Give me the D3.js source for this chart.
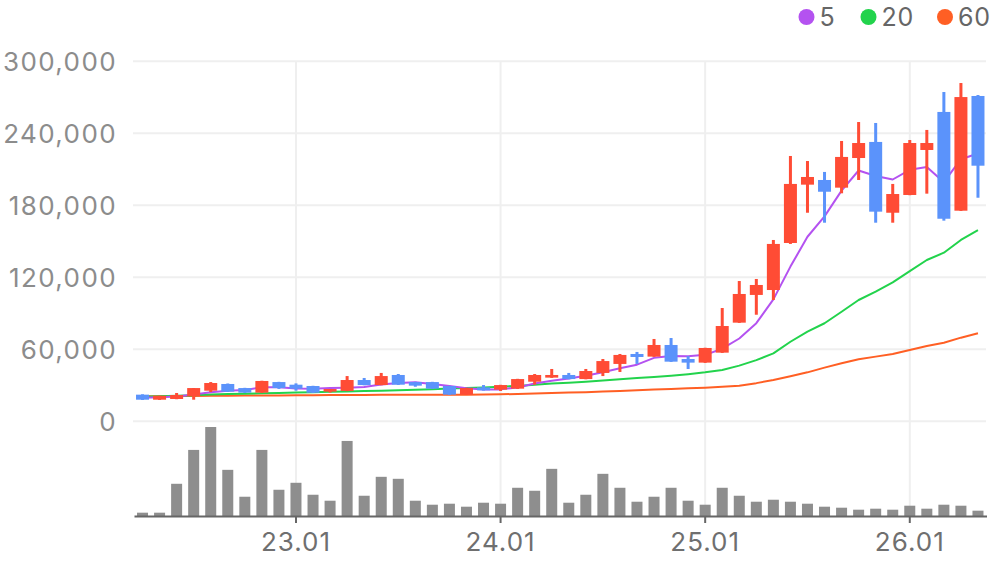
<!DOCTYPE html>
<html>
<head>
<meta charset="utf-8">
<script src="https://cdn.jsdelivr.net/npm/d3@7"></script>
<style>
  html, body { margin: 0; padding: 0; background: #fff; }
  body { font-family: Inter, "Noto Sans", sans-serif; }
</style>
</head>
<body>
<div id="chart"></div>
<script>
const months = [
  "22.04", "22.05", "22.06", "22.07", "22.08", "22.09", "22.10", "22.11", "22.12",
  "23.01", "23.02", "23.03", "23.04", "23.05", "23.06", "23.07", "23.08", "23.09", "23.10", "23.11", "23.12",
  "24.01", "24.02", "24.03", "24.04", "24.05", "24.06", "24.07", "24.08", "24.09", "24.10", "24.11", "24.12",
  "25.01", "25.02", "25.03", "25.04", "25.05", "25.06", "25.07", "25.08", "25.09", "25.10", "25.11", "25.12",
  "26.01", "26.02", "26.03", "26.04", "26.05",
];

// prices in thousands
const open = [
  22.2, 18.0, 18.6, 21.1, 25.5, 31.1, 27.7, 23.9, 32.7, 30.5,
  29.4, 24.7, 25.3, 34.4, 30.2, 38.6, 32.7, 32.7, 29.4, 22.2,
  28.3, 26.4, 27.2, 33.0, 36.4, 38.6, 35.2, 40.3, 47.8, 56.1,
  53.9, 63.6, 51.9, 48.9, 57.2, 82.2, 105.3, 109.4, 148.6, 197.2,
  201.1, 194.7, 219.4, 232.8, 173.8, 188.6, 226.1, 257.8, 175.5, 271.1,
];
const high = [
  22.5, 21.3, 23.6, 27.7, 32.7, 31.5, 27.9, 33.8, 32.9, 31.6,
  29.6, 26.9, 37.7, 36.1, 40.3, 39.4, 32.9, 32.9, 29.6, 27.9,
  30.2, 30.4, 35.4, 39.4, 43.6, 40.3, 43.6, 51.9, 56.1, 57.8,
  68.6, 69.4, 54.4, 61.3, 94.4, 116.9, 118.6, 151.1, 221.1, 216.9,
  207.8, 233.6, 249.4, 248.6, 197.8, 234.4, 242.8, 274.4, 281.9, 271.9,
];
const low = [
  17.8, 17.8, 18.4, 18.0, 24.4, 24.5, 23.7, 23.7, 27.0, 25.5,
  23.6, 23.9, 25.1, 30.0, 30.0, 30.3, 28.8, 27.0, 22.0, 22.0,
  25.6, 25.3, 27.0, 30.5, 36.2, 35.0, 35.0, 37.7, 41.1, 47.8,
  53.7, 49.5, 43.6, 48.7, 57.0, 82.0, 88.8, 101.1, 147.8, 173.8,
  165.5, 190.0, 201.1, 165.5, 165.5, 188.4, 189.7, 167.2, 175.3, 186.3,
];
const close = [
  18.0, 21.3, 21.9, 27.7, 31.9, 24.7, 23.9, 33.6, 27.7, 27.2,
  23.8, 26.9, 34.4, 30.2, 37.7, 30.5, 29.7, 27.2, 22.2, 27.7,
  25.8, 30.2, 35.2, 38.6, 38.6, 35.2, 41.9, 50.2, 55.3, 53.6,
  63.6, 49.7, 48.9, 61.1, 79.4, 106.1, 113.6, 147.8, 197.8, 203.6,
  191.3, 220.3, 231.9, 174.7, 189.4, 231.9, 231.9, 168.8, 270.2, 213.0,
];
const ma5 = [
  19.6, 20.0, 20.6, 22.4, 24.2, 25.5, 26.0, 28.4, 28.4, 27.4,
  27.2, 27.8, 28.0, 28.5, 30.6, 31.9, 32.5, 31.1, 29.5, 27.5,
  26.5, 26.6, 28.2, 31.5, 33.7, 35.6, 37.9, 40.9, 44.2, 47.2,
  52.9, 54.5, 54.2, 55.4, 60.5, 69.0, 81.8, 101.6, 128.9, 153.8,
  170.8, 192.2, 209.0, 204.4, 201.5, 209.6, 212.0, 199.3, 218.4, 223.2,
];
const ma20 = [
  20.5, 20.8, 21.2, 21.8, 22.4, 22.8, 23.0, 23.3, 23.6, 24.0,
  24.3, 24.6, 24.9, 25.2, 25.5, 25.9, 26.3, 26.8, 27.3, 27.8,
  28.2, 28.8, 29.5, 30.4, 31.5, 32.2, 33.0, 34.0, 35.0, 36.0,
  37.0, 38.0, 39.3, 40.8, 42.7, 46.4, 51.0, 56.6, 66.3, 74.7,
  81.7, 91.3, 101.1, 108.0, 115.8, 125.2, 134.4, 140.5, 151.1, 159.4,
];
const ma60 = [
  20.8, 20.9, 21.0, 21.1, 21.2, 21.3, 21.4, 21.5, 21.6, 21.7,
  21.8, 21.9, 22.0, 22.0, 22.1, 22.1, 22.1, 22.1, 22.1, 22.2,
  22.3, 22.5, 22.8, 23.1, 23.5, 23.9, 24.3, 24.8, 25.3, 25.9,
  26.4, 27.0, 27.5, 28.0, 28.8, 29.7, 31.8, 34.4, 37.5, 40.8,
  44.7, 48.3, 51.7, 53.9, 56.1, 59.4, 62.8, 65.5, 69.7, 73.3,
];
// volume, millions
const volume = [
  1.0, 1.0, 9.7, 19.9, 26.8, 13.9, 5.8, 19.9, 7.9, 10.0,
  6.4, 4.6, 22.6, 6.1, 11.8, 11.2, 4.6, 3.4, 3.7, 2.8,
  4.0, 3.7, 8.5, 7.6, 14.2, 4.0, 6.4, 12.7, 8.5, 4.3,
  5.8, 8.5, 4.6, 3.4, 8.5, 6.1, 4.3, 4.9, 4.3, 3.7,
  2.8, 2.5, 1.9, 2.2, 1.9, 3.1, 2.2, 3.4, 3.1, 1.6,
];

const yTicks = [0, 60000, 120000, 180000, 240000, 300000];
const xTicks = ["23.01", "24.01", "25.01", "26.01"];
const maSeries = [
  { name: "5", values: ma5, color: "#b452f0" },
  { name: "20", values: ma20, color: "#22d34c" },
  { name: "60", values: ma60, color: "#ff5f24" },
];

const width = 996;
const height = 567;
const upColor = "#ff4c35";
const downColor = "#5b93fb";

const candles = months.map((m, i) => ({
  month: m,
  open: open[i] * 1000,
  high: high[i] * 1000,
  low: low[i] * 1000,
  close: close[i] * 1000,
  volume: volume[i],
}));

const x = d3.scaleBand().domain(months).range([134, 986.5]).padding(0);
const cx = (m) => x(m) + x.bandwidth() / 2;

const y = d3.scaleLinear().domain([0, 300000]).range([421.3, 61.3]);
const yVol = d3.scaleLinear().domain([0, d3.max(volume)]).range([516, 427]);

const svg = d3
  .select("#chart")
  .append("svg")
  .attr("width", width)
  .attr("height", height);

// grid
svg
  .append("g")
  .selectAll("line")
  .data(yTicks)
  .join("line")
  .attr("x1", 133)
  .attr("x2", 986)
  .attr("y1", (d) => y(d))
  .attr("y2", (d) => y(d))
  .attr("stroke", "#efefef")
  .attr("stroke-width", 2);

svg
  .append("g")
  .selectAll("line")
  .data(xTicks)
  .join("line")
  .attr("x1", (d) => cx(d))
  .attr("x2", (d) => cx(d))
  .attr("y1", y(300000))
  .attr("y2", 516)
  .attr("stroke", "#efefef")
  .attr("stroke-width", 2);

// y labels
svg
  .append("g")
  .selectAll("text")
  .data(yTicks)
  .join("text")
  .attr("x", 117)
  .attr("y", (d) => y(d) + 3)
  .attr("text-anchor", "end")
  .attr("dominant-baseline", "middle")
  .attr("fill", "#8c8c8c")
  .attr("font-size", 26)
  .attr("letter-spacing", 1.4)
  .text((d) => d3.format(",")(d));

// volume
svg
  .append("g")
  .selectAll("rect")
  .data(candles)
  .join("rect")
  .attr("x", (d) => cx(d.month) - 5.5)
  .attr("width", 11)
  .attr("y", (d) => yVol(d.volume))
  .attr("height", (d) => 516 - yVol(d.volume))
  .attr("fill", "#8e8e8e");

// x axis
const xAxis = svg
  .append("g")
  .attr("transform", "translate(0,516)")
  .call(d3.axisBottom(x).tickValues(xTicks).tickSize(7).tickSizeOuter(0));
xAxis.select(".domain").attr("stroke", "#666").attr("stroke-width", 2);
xAxis.selectAll(".tick line").attr("stroke", "#666").attr("stroke-width", 2);
xAxis
  .selectAll(".tick text")
  .attr("fill", "#6f6f6f")
  .attr("font-size", 26)
  .attr("letter-spacing", 1)
  .attr("font-family", "Inter, 'Noto Sans', sans-serif")
  .attr("dy", "0.95em");

// moving averages
const line = d3
  .line()
  .x((d, i) => cx(months[i]))
  .y((d) => y(d * 1000));

svg
  .append("g")
  .attr("fill", "none")
  .selectAll("path")
  .data(maSeries.slice().reverse())
  .join("path")
  .attr("stroke", (d) => d.color)
  .attr("stroke-width", 2)
  .attr("stroke-linejoin", "round")
  .attr("d", (d) => line(d.values));

// candles
const candleG = svg
  .append("g")
  .selectAll("g")
  .data(candles)
  .join("g")
  .attr("fill", (d) => (d.close >= d.open ? upColor : downColor));

candleG
  .append("rect")
  .attr("x", (d) => cx(d.month) - 1.5)
  .attr("width", 3)
  .attr("y", (d) => y(d.high))
  .attr("height", (d) => y(d.low) - y(d.high));

candleG
  .append("rect")
  .attr("x", (d) => cx(d.month) - 6.5)
  .attr("width", 13)
  .attr("y", (d) => y(Math.max(d.open, d.close)))
  .attr("height", (d) => Math.max(1, Math.abs(y(d.open) - y(d.close))));

// legend
const legendX = [806.5, 868.5, 945];
const legend = svg
  .append("g")
  .selectAll("g")
  .data(maSeries)
  .join("g")
  .attr("transform", (d, i) => `translate(${legendX[i]},17)`);

legend.append("circle").attr("r", 8).attr("fill", (d) => d.color);

legend
  .append("text")
  .attr("x", 13)
  .attr("dy", "0.36em")
  .attr("fill", "#666")
  .attr("font-size", 25)
  .attr("letter-spacing", 0.8)
  .text((d) => d.name);
</script>
</body>
</html>
